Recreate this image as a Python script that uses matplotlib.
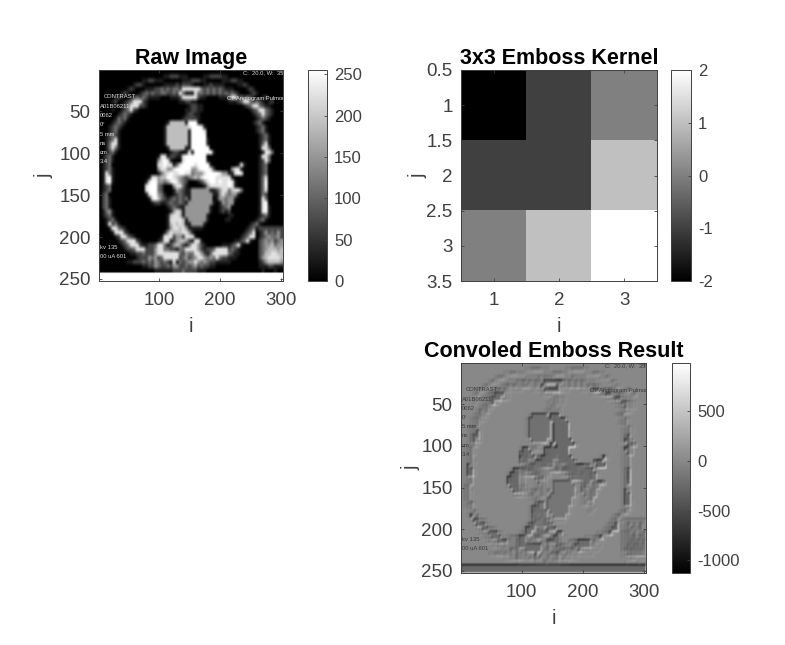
import numpy as np
import matplotlib

matplotlib.use("Agg")
import matplotlib.pyplot as plt

plt.rcParams["font.family"] = ["Liberation Sans", "DejaVu Sans"]

FIG_W, FIG_H = 785, 645
GREY = "#404040"

# the CT slice, one char per 5x5 image cell
LEVELS = {" ": 0, ".": 30, "-": 70, "+": 110, "x": 150, "o": 190, "O": 225, "#": 255}
CT_ROWS = [
    "                                                            ",
    "                     ..---...     ..----..                  ",
    "              ..--...      ...---..     ...--..             ",
    "           .--.      ....-.---.   ..-....    ..-.           ",
    "         .-.   ...--+-+-++-OOOOOO+-+-+-+-...    .-.         ",
    "       .-.   .-+-+--++--+-O+...O++-+-+-+-+-+-.   .-.        ",
    "     .-.  .-+-+-....   ...-OOOOO-..    ...+OO-+-+-.  .-     ",
    "    .-  .-+OOO-.          ..--..          ...-+OO+-+-. .-   ",
    "       .-+OOO--.             .--..             .-+OO+-..    ",
    "    .  .-+O-.               ..--..               .-+OO+-.   ",
    "      .-+-.                 .--..                 .-+O+-.   ",
    "     .+-+.                 .----.                  .-+-.    ",
    "    .-+-.             .ooooo.###.                 .-+.      ",
    "   .-+-.             .oooooooO###O.                .-+.     ",
    "   .-+.              .ooooooo.####O                .-+.     ",
    "  .-+-.              .ooooooo.#####                 .-+.    ",
    "  .-+O.              .ooooooo.#####.                .-+.    ",
    "  .+OO.              .ooooooo.#####.                .+O.    ",
    "  .+O+.               .ooooo..######                .OO+    ",
    "  .-+.                 .--. .O.######.               .OO+   ",
    " .-+.              .OO.--..O#######                 .OO+    ",
    " .-+.              xO#O.   O#######.                .-O+    ",
    " .-+               OO#OO.+O####O####.        .O.    .-+     ",
    " .-+.              xOOxxO#####xxO###O-     xOO.     .-+     ",
    " .O+.              .+oO#OO##OO+xxxO####Oxx..O#O     .-+     ",
    " .O#.           .OOxoo##Oox+-+xoxO####OOOOO.        .+O     ",
    " .O#.          .O##xx+xO#Ox+-   .-xO##O#OO#O.       .+#     ",
    " .-+           O###+-   xOO+.     .xOOOOOO#O.       .+#     ",
    " .-+           O###+-   .x+-..xxxxxx..-xOO+oOO+     .+O     ",
    " -+            .O##x+.  .-+-..xxxxxxx..xOx+xx.      .+-     ",
    " -+.            .O#o+-.-+-+-+.xxxxxxx .xx+xx.       .O+     ",
    " -+.             .--..-+--+-.xxxxxxxx. .x+xx        .O#     ",
    " -+.                  .-+-..xxxxxxxx.  .-+x         .O#.    ",
    " .+x.                  .xOo.xxxxxxxx.  .-.-         .O#.    ",
    " .-+.                 .oOOo.xxxxxxx.      ..        .-+.    ",
    "  .-+.                .OOOOo.xxxxxx.     ..        .-+.     ",
    "  .O-+.               .oOoOo..xxxx.              .-+.       ",
    "   .OO+-.             .xOOoOx.....              .-+.--------",
    "    .OOO-.           .xOoooOOx.                .-+O .-x-+-x-",
    "     .-OO+-.        .OOO-xx-OOO.              .-+OO .-+x++x-",
    "      .-+OOO-.     .-OO.-xoox-.OO.          ..-+O.  -+x+x-+x",
    "       .-+OOO-..--+OO+.-xox-.+OOx-.     ...-+O.     -+xxo+xx",
    "        .--+OOO---xOO++--.++OOOOx-.--+OOOO-+-.      -+xoooxo",
    "          ..--+---xOOOOOOO+-x++OOx-.+OOOOO+-..      -+ooOOoo",
    "            .---x+x-+OOOOO-+x-+xOOx+x+O+--...       -xoOOOOo",
    "         ..---+-+-x+-+-.O.+-+xxOx+x+--.....         .-xoooox",
    "              ..--x+--+-xx--+-+x-+--..              ...--...",
    "                  ......---+----...                  .   .  ",
    "############################################################",
    "############################################################",
]

KERNEL = [[-2, -1, 0], [-1, -1, 1], [0, 1, 2]]

# burned-in scanner text: (x, y, text) in image coordinates
SCAN_TEXT = [
    (8, 32, "CONTRAST"),
    (2, 44, "A01B06211"),
    (2, 55, "0062"),
    (2, 66, "0°"),
    (2, 77, "5 mm"),
    (2, 88, "ns"),
    (2, 99, "cm"),
    (2, 110, "3.4"),
    (212, 34, "CT Angiogram Pulmonar"),
    (237, 4, "C:  20.0, W:  350"),
    (2, 212, "kv 135"),
    (2, 223, "00 uA 601"),
]

RAW_CLIM = (0, 255)
RESULT_CLIM = (-1126, 979)
XTICKS = [100, 200, 300]
YTICKS = [50, 100, 150, 200, 250]
RAW_CTICKS = [0, 50, 100, 150, 200, 250]
KERNEL_TICKS = [1, 2, 3]
KERNEL_YTICKS = [0.5, 1, 1.5, 2, 2.5, 3, 3.5]
KERNEL_CTICKS = [-2, -1, 0, 1, 2]
RESULT_CTICKS = [-1000, -500, 0, 500]


def make_axes(fig, left, top, right, bottom):
    # pixel box, measured from the top left of the picture
    return fig.add_axes(
        [
            left / FIG_W,
            1 - bottom / FIG_H,
            (right - left) / FIG_W,
            (bottom - top) / FIG_H,
        ]
    )


def style_axes(ax, j_x):
    ax.tick_params(
        direction="in",
        top=True,
        right=True,
        length=2.5,
        width=0.6,
        color=GREY,
        labelcolor=GREY,
        labelsize=13.5,
    )
    ax.tick_params(axis="x", pad=8)
    ax.tick_params(axis="y", pad=6)
    for spine in ax.spines.values():
        spine.set_color(GREY)
        spine.set_linewidth(0.7)
    ax.set_xlabel("i", fontsize=14.5, color=GREY, labelpad=6)
    ax.set_ylabel("j", fontsize=14.5, color=GREY)
    ax.yaxis.set_label_coords(j_x, 0.5)


def add_colorbar(fig, im, box, ticks):
    cax = make_axes(fig, *box)
    cbar = fig.colorbar(im, cax=cax, ticks=ticks)
    cax.tick_params(
        direction="in",
        length=2.5,
        width=0.6,
        color=GREY,
        labelcolor=GREY,
        labelsize=12,
        pad=5,
    )
    cbar.outline.set_edgecolor(GREY)
    cbar.outline.set_linewidth(0.7)
    cax.set_yticklabels([str(t) for t in ticks])
    return cbar


def add_scan_text(ax, color):
    for x, y, s in SCAN_TEXT:
        ax.text(x, y, s, color=color, fontsize=4.2, va="center", ha="left", clip_on=True)


def smooth(img, size):
    # small box blur so the 5x5 cells do not show as stairs
    w = np.lib.stride_tricks.sliding_window_view(
        np.pad(img, size // 2, mode="edge"), (size, size)
    )
    return w.mean(axis=(2, 3))


def convolve_same(img, kernel):
    k = np.array(kernel, dtype=float)[::-1, ::-1]
    w = np.lib.stride_tricks.sliding_window_view(np.pad(img, 1), (3, 3))
    return (w * k).sum(axis=(2, 3))


cells = np.array([[LEVELS[c] for c in row.ljust(60)[:60]] for row in CT_ROWS], float)
cells = np.kron(cells, np.ones((5, 5)))

raw = smooth(cells, 5)
# the strip at the bottom stays hard edged in the scan
raw[238:, :] = cells[238:, :]
result = convolve_same(smooth(cells, 3), KERNEL)

fig = plt.figure(figsize=(FIG_W / 100, FIG_H / 100), dpi=100)
extent = (0.5, 303.5, 252.5, 0.5)

# raw image
ax1 = make_axes(fig, 99, 70, 283, 281)
im1 = ax1.imshow(
    raw, cmap="gray", vmin=RAW_CLIM[0], vmax=RAW_CLIM[1], aspect="auto",
    extent=extent, interpolation="bicubic",
)
ax1.set_xticks(XTICKS)
ax1.set_yticks(YTICKS)
style_axes(ax1, -0.25)
add_scan_text(ax1, "#dddddd")
ax1.set_title("Raw Image", fontsize=15.5, fontweight="bold", color="black", pad=4)
add_colorbar(fig, im1, (308, 70, 327, 281), RAW_CTICKS)

# kernel
ax2 = make_axes(fig, 461, 70, 657, 281)
im2 = ax2.imshow(
    KERNEL, cmap="gray", vmin=-2, vmax=2, aspect="auto",
    extent=(0.5, 3.5, 3.5, 0.5), interpolation="nearest",
)
ax2.set_xticks(KERNEL_TICKS)
ax2.set_yticks(KERNEL_YTICKS)
ax2.set_yticklabels([f"{t:g}" for t in KERNEL_YTICKS])
style_axes(ax2, -0.17)
ax2.set_title("3x3 Emboss Kernel", fontsize=15.5, fontweight="bold", color="black", pad=4)
add_colorbar(fig, im2, (671, 70, 691, 281), KERNEL_CTICKS)

# convolved result
ax3 = make_axes(fig, 461, 363, 646, 573)
im3 = ax3.imshow(
    result, cmap="gray", vmin=RESULT_CLIM[0], vmax=RESULT_CLIM[1], aspect="auto",
    extent=extent, interpolation="bicubic",
)
ax3.set_xticks(XTICKS)
ax3.set_yticks(YTICKS)
style_axes(ax3, -0.22)
add_scan_text(ax3, "#3a3a3a")
ax3.set_title("Convoled Emboss Result", fontsize=15.5, fontweight="bold", color="black", pad=4)
add_colorbar(fig, im3, (672, 363, 690, 573), RESULT_CTICKS)

fig.savefig("out.png", dpi=100)
